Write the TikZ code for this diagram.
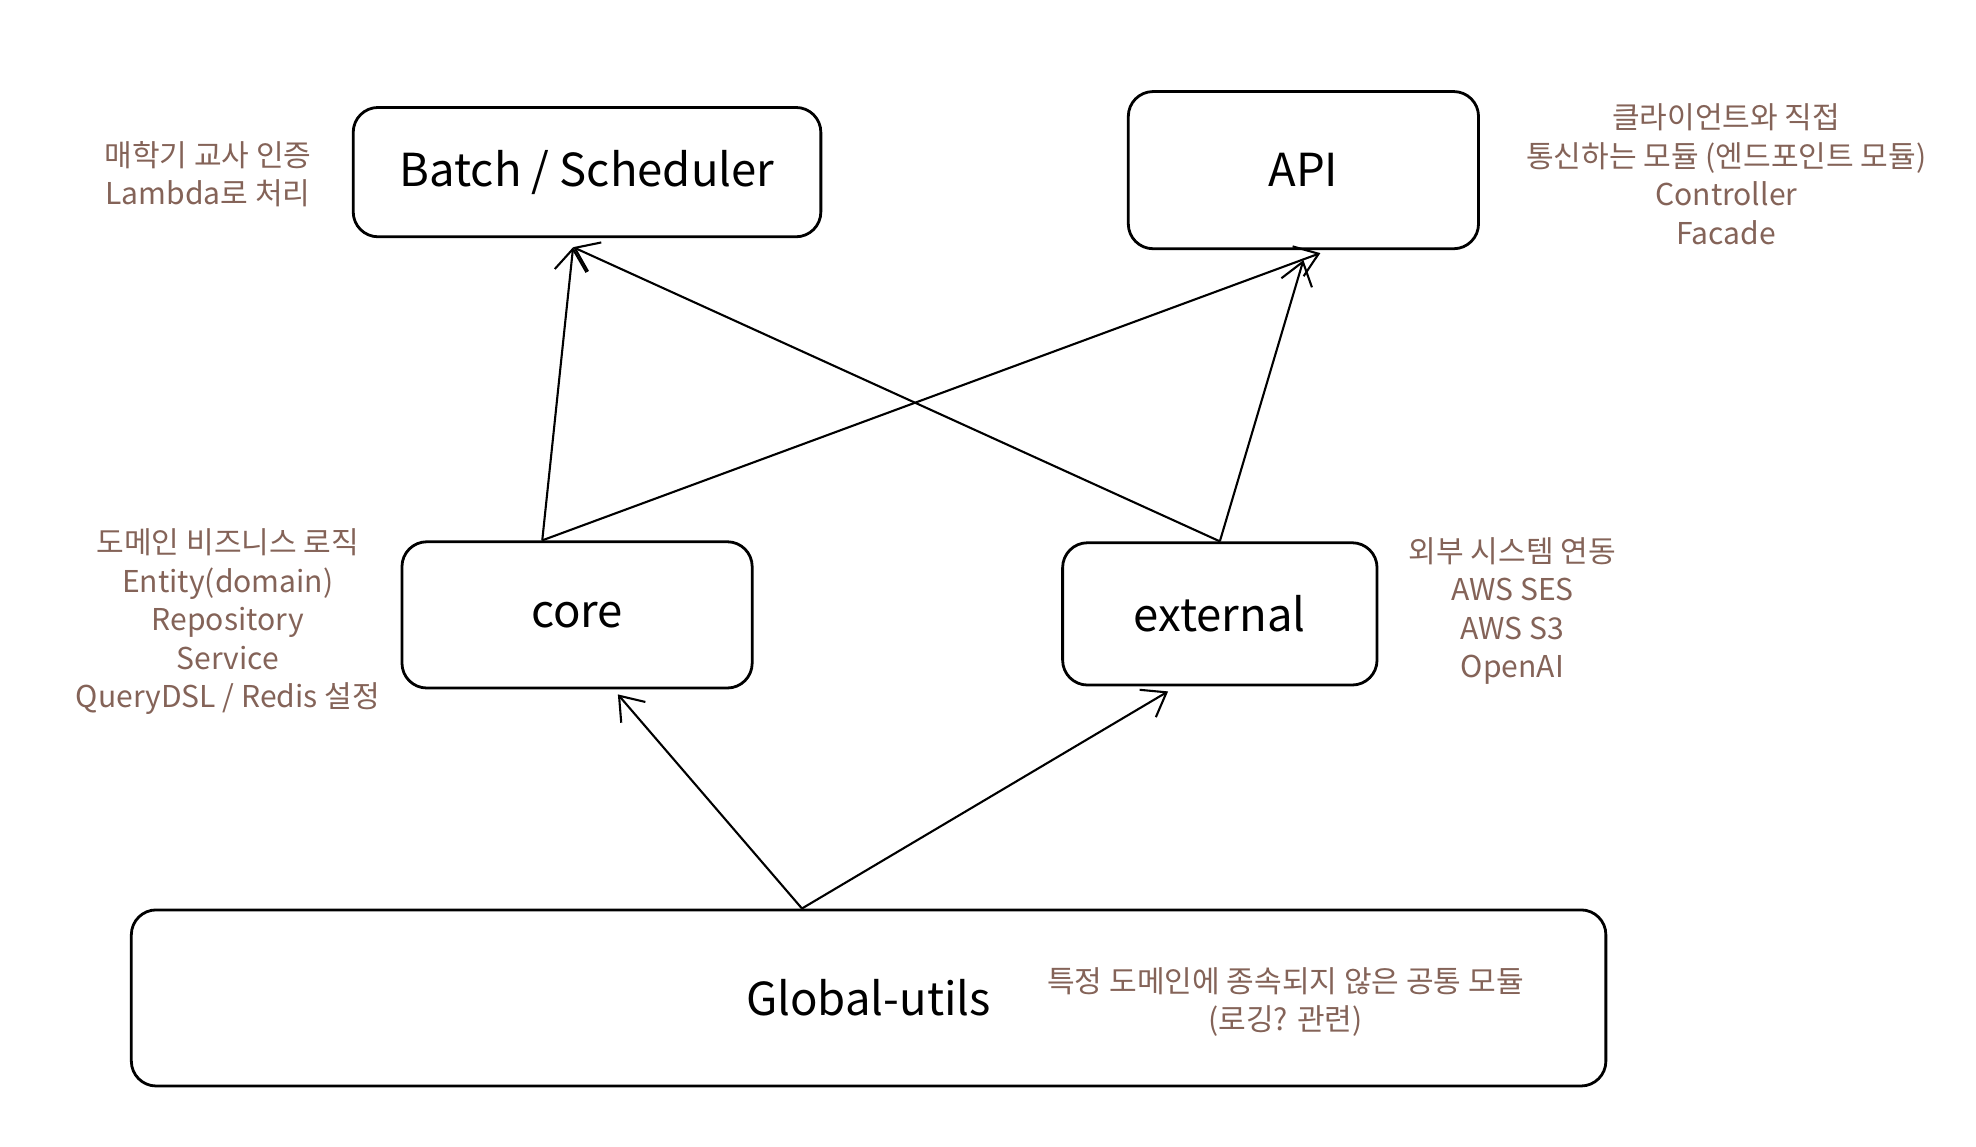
\documentclass[tikz,border=0pt]{standalone}
\usepackage{fontspec}
\setmainfont{Noto Sans CJK KR}
\usetikzlibrary{arrows.meta}
\definecolor{notebrown}{HTML}{846358}
\tikzstyle{module} = [rectangle, rounded corners=0.25cm, inner sep=0pt, text centered, draw=black, line width=0.8pt, font=\fontsize{13}{15}\selectfont]
\tikzstyle{note} = [align=center, text=notebrown, font=\fontsize{8.6}{11}\selectfont]
\tikzstyle{arrow} = [line width=0.6pt,->,>={Straight Barb[length=0.22cm,width=0.32cm]}]

\begin{document}
\begin{tikzpicture}

\useasboundingbox (0,0) rectangle (19.86,-11.52);

% Module boxes
\node (batch) [module, minimum width=4.7cm, minimum height=1.3cm] at (5.90,-1.73) {Batch / Scheduler};
\node (api) [module, minimum width=3.52cm, minimum height=1.58cm] at (13.10,-1.71) {API};
\node (core) [module, minimum width=3.52cm, minimum height=1.47cm] at (5.80,-6.18) {core};
\node (external) [module, minimum width=3.16cm, minimum height=1.43cm] at (12.26,-6.17) {external};
\node (global) [module, minimum width=14.82cm, minimum height=1.77cm] at (8.73,-10.03) {Global-utils};

% Notes
\node (batchnote) [note] at (2.09,-1.75) {매학기 교사 인증\\Lambda로 처리};
\node (apinote) [note] at (17.35,-1.75) {클라이언트와 직접\\통신하는 모듈 (엔드포인트 모듈)\\Controller\\Facade};
\node (corenote) [note] at (2.29,-6.25) {도메인 비즈니스 로직\\Entity(domain)\\Repository\\Service\\QueryDSL / Redis 설정};
\node (externalnote) [note] at (15.20,-6.14) {외부 시스템 연동\\AWS SES\\AWS S3\\OpenAI};
\node (globalnote) [note] at (12.92,-10.07) {특정 도메인에 종속되지 않은 공통 모듈\\(로깅? 관련)};

% Dependencies
\draw [arrow] ([xshift=-0.35cm]core.north) -- ([xshift=-0.14cm,yshift=-0.09cm]batch.south);
\draw [arrow] ([xshift=-0.35cm]core.north) -- ([xshift=0.17cm,yshift=-0.03cm]api.south);
\draw [arrow] (external.north) -- ([xshift=-0.14cm,yshift=-0.09cm]batch.south);
\draw [arrow] (external.north) -- ([yshift=-0.1cm]api.south);
\draw [arrow] ([xshift=-0.67cm]global.north) -- ([xshift=0.41cm,yshift=-0.05cm]core.south);
\draw [arrow] ([xshift=-0.67cm]global.north) -- ([xshift=-0.52cm,yshift=-0.05cm]external.south);

\end{tikzpicture}
\end{document}
